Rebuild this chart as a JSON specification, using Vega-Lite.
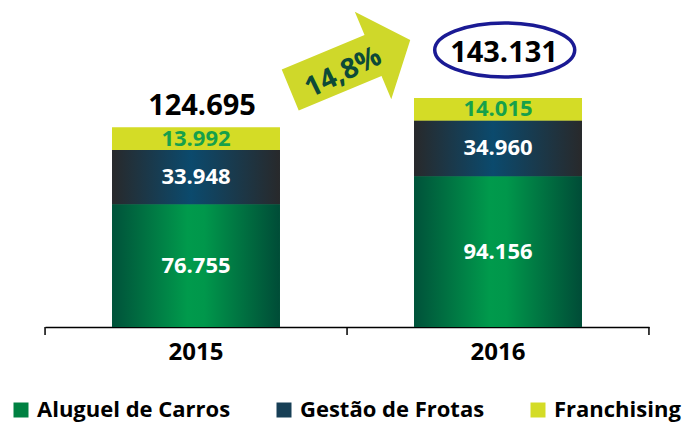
{
  "$schema": "https://vega.github.io/schema/vega-lite/v6.json",
  "width": 604,
  "height": 327,
  "autosize": {"type": "none"},
  "padding": {"left": 45, "top": 0, "right": 37, "bottom": 96},
  "config": {
    "view": {"stroke": null},
    "font": "Open Sans",
    "locale": {"number": {"decimal": ",", "thousands": ".", "grouping": [3], "currency": ["R$", ""]}}
  },
  "datasets": {
    "bars": [
      {"year": "2015", "series": "Aluguel de Carros", "ord": 1, "value": 76755},
      {"year": "2015", "series": "Gestão de Frotas", "ord": 2, "value": 33948},
      {"year": "2015", "series": "Franchising", "ord": 3, "value": 13992},
      {"year": "2016", "series": "Aluguel de Carros", "ord": 1, "value": 94156},
      {"year": "2016", "series": "Gestão de Frotas", "ord": 2, "value": 34960},
      {"year": "2016", "series": "Franchising", "ord": 3, "value": 14015}
    ],
    "bands": [
      {"year": "2015"},
      {"year": "2016"}
    ],
    "notes": [
      {"item": "arrow", "year": "2016", "ay": 163750, "label": ""},
      {"item": "growth", "year": "2016", "ay": 158750, "label": "14,8%"},
      {"item": "ellipse", "year": "2016", "ay": 173125, "label": ""}
    ]
  },
  "layer": [
    {
      "data": {"name": "bars"},
      "mark": {"type": "bar"},
      "encoding": {
        "x": {
          "field": "year",
          "type": "nominal",
          "scale": {"paddingInner": 0.444, "paddingOuter": 0.222},
          "axis": {
            "title": null,
            "labelAngle": 0,
            "labelFont": "Open Sans",
            "labelFontSize": 24,
            "labelFontWeight": "bold",
            "labelColor": "#000000",
            "labelPadding": 13,
            "domainColor": "#000000",
            "domainWidth": 1.5,
            "ticks": false
          }
        },
        "y": {"field": "value", "type": "quantitative", "stack": "zero", "scale": {"domain": [0, 204375], "nice": false}, "axis": null},
        "order": {"field": "ord"},
        "color": {
          "field": "series",
          "type": "nominal",
          "scale": {
            "domain": ["Aluguel de Carros", "Gestão de Frotas", "Franchising"],
            "range": ["#008142", "#173f56", "#d4dc26"]
          },
          "legend": {
            "title": null,
            "orient": "none",
            "direction": "horizontal",
            "legendX": -35,
            "legendY": 399,
            "padding": 0,
            "symbolType": "square",
            "symbolSize": 225,
            "symbolStrokeWidth": 0,
            "symbolOpacity": 1,
            "labelFont": "Open Sans",
            "labelFontSize": 22,
            "labelFontWeight": "bold",
            "labelColor": "#000000",
            "labelLimit": 400,
            "labelOffset": 5,
            "columnPadding": 42
          }
        }
      }
    },
    {
      "data": {"name": "bars"},
      "mark": {"type": "bar"},
      "encoding": {
        "x": {"field": "year", "type": "nominal"},
        "y": {"field": "value", "type": "quantitative", "stack": "zero"},
        "order": {"field": "ord"},
        "detail": {"field": "series"},
        "fill": {
          "condition": [
            {"test": "datum.series === 'Aluguel de Carros'", "value": {"gradient": "linear", "x1": 0, "y1": 0, "x2": 1, "y2": 0, "stops": [
              {"offset": 0, "color": "#00523a"},
              {"offset": 0.45, "color": "#009a4c"},
              {"offset": 0.55, "color": "#00974b"},
              {"offset": 1, "color": "#004c37"}
            ]}},
            {"test": "datum.series === 'Gestão de Frotas'", "value": {"gradient": "linear", "x1": 0, "y1": 0, "x2": 1, "y2": 0, "stops": [
              {"offset": 0, "color": "#28292b"},
              {"offset": 0.47, "color": "#0b4a6d"},
              {"offset": 1, "color": "#28292b"}
            ]}}
          ],
          "value": "#d4dc26"
        }
      }
    },
    {
      "data": {"name": "bands"},
      "mark": {"type": "rule", "color": "#000000", "strokeWidth": 1.5},
      "encoding": {
        "x": {"field": "year", "type": "nominal", "bandPosition": -0.399},
        "y": {"datum": 0, "type": "quantitative"},
        "y2": {"datum": -5000}
      }
    },
    {
      "data": {"name": "bands"},
      "transform": [{"filter": "datum.year === '2016'"}],
      "mark": {"type": "rule", "color": "#000000", "strokeWidth": 1.5},
      "encoding": {
        "x": {"field": "year", "type": "nominal", "bandPosition": 1.399},
        "y": {"datum": 0, "type": "quantitative"},
        "y2": {"datum": -5000}
      }
    },
    {
      "data": {"name": "bars"},
      "mark": {"type": "text", "font": "Open Sans", "fontSize": 22, "fontWeight": "bold", "baseline": "middle", "align": "center"},
      "encoding": {
        "x": {"field": "year", "type": "nominal"},
        "y": {"field": "value", "type": "quantitative", "stack": "zero", "bandPosition": 0.5},
        "order": {"field": "ord"},
        "detail": {"field": "series"},
        "text": {"field": "value", "type": "quantitative", "format": ",d"},
        "color": {"condition": {"test": "datum.series === 'Franchising'", "value": "#16a04b"}, "value": "#ffffff"}
      }
    },
    {
      "data": {"name": "bars"},
      "transform": [{"filter": "datum.year === '2015'"}],
      "mark": {"type": "text", "font": "Open Sans", "fontSize": 29, "fontWeight": "bold", "baseline": "middle", "align": "center", "dy": -21, "dx": 6, "color": "#000000"},
      "encoding": {
        "x": {"field": "year", "type": "nominal"},
        "y": {"aggregate": "sum", "field": "value", "type": "quantitative"},
        "text": {"aggregate": "sum", "field": "value", "type": "quantitative", "format": ",d"}
      }
    },
    {
      "data": {"name": "bars"},
      "transform": [{"filter": "datum.year === '2016'"}],
      "mark": {"type": "text", "font": "Open Sans", "fontSize": 29, "fontWeight": "bold", "baseline": "middle", "align": "center", "dy": -45, "dx": 6, "color": "#000000"},
      "encoding": {
        "x": {"field": "year", "type": "nominal"},
        "y": {"aggregate": "sum", "field": "value", "type": "quantitative"},
        "text": {"aggregate": "sum", "field": "value", "type": "quantitative", "format": ",d"}
      }
    },
    {
      "data": {"name": "notes"},
      "transform": [{"filter": "datum.item === 'arrow'"}],
      "mark": {
        "type": "point",
        "shape": "M-1,-0.34 L0.38,-0.34 L0.38,-0.73 L1,0 L0.38,0.73 L0.38,0.34 L-1,0.34 Z",
        "size": 16900,
        "angle": 337.4,
        "filled": true,
        "color": "#cfd82a",
        "opacity": 1,
        "strokeWidth": 0
      },
      "encoding": {
        "x": {"field": "year", "type": "nominal", "bandPosition": -0.38},
        "y": {"field": "ay", "type": "quantitative"}
      }
    },
    {
      "data": {"name": "notes"},
      "transform": [{"filter": "datum.item === 'growth'"}],
      "mark": {"type": "text", "font": "Open Sans", "fontSize": 28, "fontWeight": "bold", "angle": 334, "align": "center", "baseline": "middle", "color": "#0d4a38"},
      "encoding": {
        "x": {"field": "year", "type": "nominal", "bandPosition": -0.42},
        "y": {"field": "ay", "type": "quantitative"},
        "text": {"field": "label"}
      }
    },
    {
      "data": {"name": "notes"},
      "transform": [{"filter": "datum.item === 'ellipse'"}],
      "mark": {
        "type": "point",
        "shape": "M-1,0 A1,0.386 0 1,0 1,0 A1,0.386 0 1,0 -1,0 Z",
        "size": 19600,
        "filled": false,
        "stroke": "#1a1a94",
        "strokeWidth": 3.5,
        "opacity": 1
      },
      "encoding": {
        "x": {"field": "year", "type": "nominal", "bandPosition": 0.54},
        "y": {"field": "ay", "type": "quantitative"}
      }
    }
  ]
}
